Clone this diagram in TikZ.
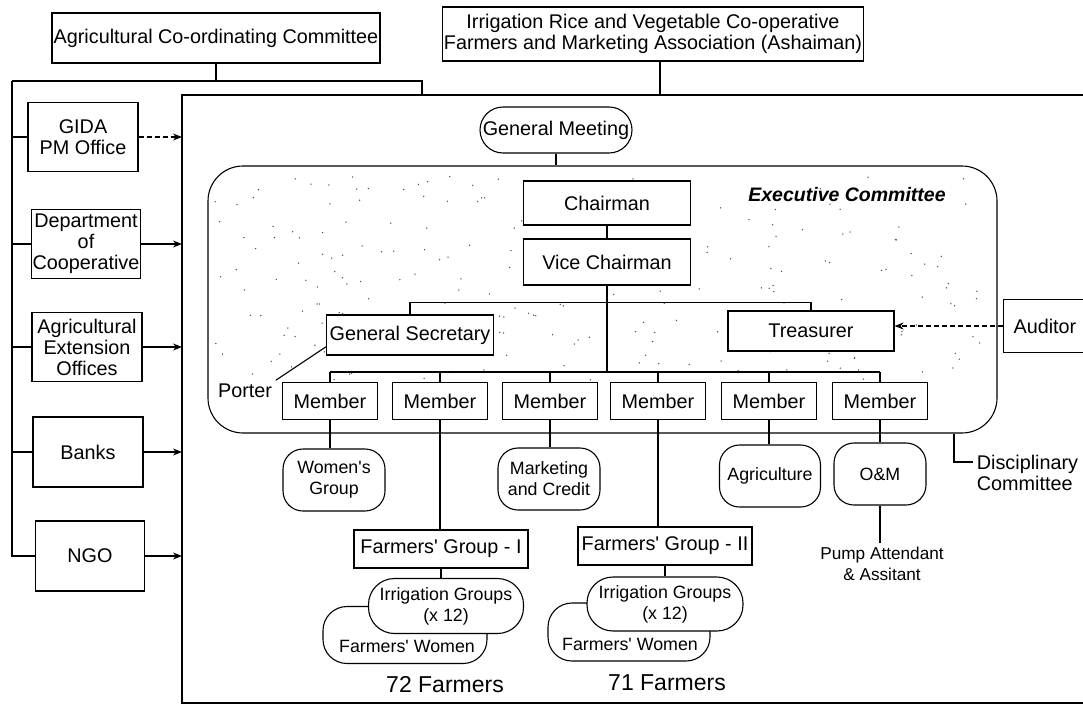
\documentclass[tikz,border=0pt]{standalone}
\usepackage{fontspec}
\setmainfont{Liberation Sans}[Ligatures=TeXOff]
\usetikzlibrary{arrows.meta}

\tikzset{
  box/.style={draw, fill=white, align=center, inner sep=1pt},
  rbox/.style={draw, fill=white, align=center, inner sep=1pt, rounded corners=20pt,
    font=\fontsize{17.8}{21}\selectfont},
  member/.style={box, minimum width=95pt, minimum height=37pt},
  link/.style={-{Stealth[length=9pt,width=7pt]}},
  dashlink/.style={link, dash pattern=on 5pt off 3pt},
}

\begin{document}
\begin{tikzpicture}[x=1pt, y=-1pt, line width=1.1pt, font=\fontsize{19.8}{21}\selectfont]
    \useasboundingbox (0,0) rectangle (1083,707);
    %top boxes
    \node[box, minimum width=328pt, minimum height=50pt] (acc) at (216,38) {Agricultural Co-ordinating Committee};
    \node[box, minimum width=329pt, minimum height=54pt] (assoc) at (653,34) {Irrigation Rice and Vegetable Co-operative\\Farmers and Marketing Association (Ashaiman)};
    %frame
    \coordinate (ftl) at (182,95);
    \coordinate (lft) at (12,81);
    \coordinate (acj) at (422,81);
    \draw (1083,95) -- (ftl) -- (182,703) -- (1083,703);
    \draw (acc.south) -- (acc.south |- lft);
    \draw (lft) -- (acj) -- (acj |- ftl);
    \draw (assoc.south -| 660,0) -- (660,95);
    %left column
    \node[box, minimum width=110pt, minimum height=69pt] (gida) at (83,137) {GIDA\\PM Office};
    \node[box, minimum width=108pt, minimum height=69pt] (dept) at (86,244) {Department\\of\\Cooperative};
    \node[box, minimum width=110pt, minimum height=69pt] (ext) at (87,347) {Agricultural\\Extension\\Offices};
    \node[box, minimum width=110pt, minimum height=70pt] (bank) at (88,452) {Banks};
    \node[box, minimum width=109pt, minimum height=70pt] (ngo) at (90,556) {NGO};
    \draw (lft) |- (ngo.west);
    \foreach \n in {gida,dept,ext,bank}
        \draw (\n.west) -- (\n.west -| lft);
    \draw[dashlink] (gida.east) -- (gida.east -| ftl);
    \foreach \n in {dept,ext,bank,ngo}
        \draw[link] (\n.east) -- (\n.east -| ftl);
    %general meeting and executive committee
    \node[box, rounded corners=23pt, minimum width=152pt, minimum height=46pt] (gm) at (556,130) {General Meeting};
    \node[draw, rounded corners=35pt, minimum width=789pt, minimum height=267pt] (exec) at (602.5,299.5) {};
    \pgfmathsetseed{7}
    \foreach \i in {1,...,240}
        \fill[black!70] (215+rnd*770, 175+rnd*205) circle (0.75pt);
    \node[font=\fontsize{19.5}{21}\selectfont\bfseries\itshape] (ec) at (847,195) {Executive Committee};
    \draw (gm.south) -- (gm.south |- exec.north);
    \node[box, minimum width=167pt, minimum height=44pt] (ch) at (607,203) {Chairman};
    \node[box, minimum width=167pt, minimum height=46pt] (vc) at (607,262) {Vice Chairman};
    \node[box, minimum width=167pt, minimum height=40pt] (gs) at (410,335) {General Secretary};
    \node[box, minimum width=166pt, minimum height=40pt] (tre) at (811,331) {Treasurer};
    \node[box, anchor=west, text width=80pt, align=left, inner xsep=10pt, minimum height=53pt] (aud) at (1003,326) {Auditor};
    \node (por) at (245,391) {Porter};
    \draw (ch) -- (vc);
    \draw (gs.north) -- ++(0,-12) -| (tre.north);
    \draw[dashlink] (aud.west) -- (aud.west -| tre.east);
    \draw (por.north east) -- (gs.188);
    %members
    \foreach \x [count=\i] in {330,440,550,658,769,880}
        \node[member] (m\i) at (\x,401) {Member};
    \coordinate (mb) at (607,372);
    \draw (vc.south) -- (mb);
    \draw (m1.north |- mb) -- (m6.north |- mb);
    \foreach \i in {1,...,6}
        \draw (m\i.north) -- (m\i.north |- mb);
    %groups under members
    \node[rbox, minimum width=102pt, minimum height=62pt] (wg) at (334,480) {Women's\\Group};
    \node[rbox, minimum width=102pt, minimum height=62pt] (mc) at (549,479) {Marketing\\and Credit};
    \node[rbox, minimum width=101pt, minimum height=62pt] (agr) at (770,476) {Agriculture};
    \node[rbox, minimum width=92pt, minimum height=62pt] (om) at (880,474) {O\&M};
    \node[font=\fontsize{17.2}{21}\selectfont, align=center] (pump) at (882,564) {Pump Attendant\\\& Assitant};
    \node[box, minimum width=174pt, minimum height=38pt] (fg1) at (441,549) {Farmers' Group - I};
    \node[box, minimum width=174pt, minimum height=38pt] (fg2) at (665,546) {Farmers' Group - II};
    \draw (m1.south) -- (m1.south |- wg.north);
    \draw (m2.south) -- (m2.south |- fg1.north);
    \draw (m3.south) -- (m3.south |- mc.north);
    \draw (m4.south) -- (m4.south |- fg2.north);
    \draw (m5.south) -- (m5.south |- agr.north);
    \draw (m6.south) -- (m6.south |- om.north);
    \draw (om.south) -- (om.south |- pump.north);
    %disciplinary committee
    \node[align=left, anchor=west] (dc) at (973,473) {Disciplinary\\Committee};
    \coordinate (dcs) at (954,0);
    \draw (exec.south -| dcs) |- ([yshift=11pt]dc.west);
    %irrigation groups
    \node[rbox, rounded corners=24pt, minimum width=164pt, minimum height=57pt] (fw1) at (405,635) {};
    \node[font=\fontsize{17.8}{21}\selectfont] (fw1t) at (407,646) {Farmers' Women};
    \node[rbox, rounded corners=26pt, minimum width=155pt, minimum height=55pt] (ig1) at (446,606) {Irrigation Groups\\(x 12)};
    \node[rbox, rounded corners=24pt, minimum width=162pt, minimum height=58pt] (fw2) at (629,632) {};
    \node[font=\fontsize{17.8}{21}\selectfont] (fw2t) at (630,644) {Farmers' Women};
    \node[rbox, rounded corners=26pt, minimum width=156pt, minimum height=54pt] (ig2) at (665,604) {Irrigation Groups\\(x 12)};
    \draw (fg1.south) -- (fg1.south |- ig1.north);
    \draw (fg2.south) -- (fg2.south |- ig2.north);
    \node[font=\fontsize{23}{25}\selectfont] (f72) at (445,685) {72 Farmers};
    \node[font=\fontsize{23}{25}\selectfont] (f71) at (667,683) {71 Farmers};
\end{tikzpicture}
\end{document}
